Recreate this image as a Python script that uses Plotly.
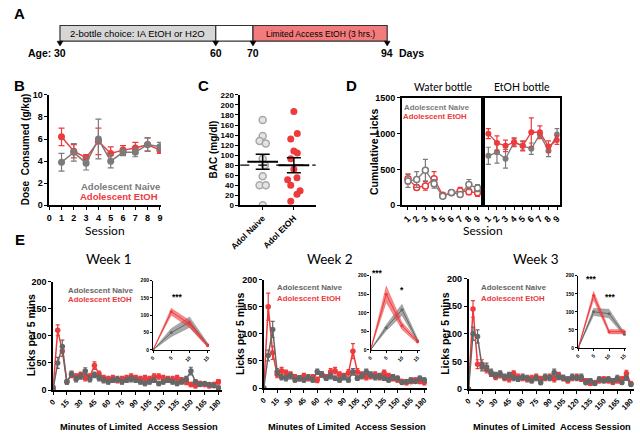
import plotly.graph_objects as go

W, H = 640, 438
RED = "#ec3a3d"
GRAY = "#7b7b7b"
DGRAY = "#666666"
FONT = "Liberation Sans, Arial, sans-serif"
FONT2 = "Lato, Open Sans, sans-serif"

# ---------------- data ----------------
# Panel A timeline
ages = [30, 60, 70, 94]
phase_labels = ["2-bottle choice: IA EtOH or H2O", "", "Limited Access EtOH (3 hrs.)"]

# Panel B
sessions = [1, 2, 3, 4, 5, 6, 7, 8, 9]
dose_naive = [3.9, 4.8, 3.8, 6.0, 4.0, 4.8, 4.8, 5.5, 5.3]
dose_naive_err = [0.8, 0.8, 0.6, 1.8, 0.6, 0.3, 0.4, 0.6, 0.4]
dose_etoh = [6.2, 4.9, 4.3, 5.8, 4.7, 5.0, 5.2, 5.5, 5.0]
dose_etoh_err = [0.8, 0.6, 0.3, 1.2, 0.6, 0.4, 0.5, 0.6, 0.3]

# Panel C
bac_groups = ["Adol Naive", "Adol EtOH"]
bac_naive = [170, 138, 128, 123, 93, 80, 58, 40, 40, 0]
bac_naive_jitter = [0, 0, -0.1, 0.1, 0, 0.07, 0, -0.1, 0.1, 0]
bac_etoh = [187, 143, 132, 108, 104, 93, 72, 55, 51, 40, 29, 22, 8]
bac_etoh_jitter = [0, 0.11, -0.1, 0, 0.11, -0.1, 0, 0.1, -0.2, -0.1, 0.2, 0.1, -0.1]
bac_mean = [87, 80]
bac_sem = [15, 15]
bac_threshold = 80

# Panel D
water_naive = [340, 360, 490, 300, 125, 180, 150, 290, 240]
water_naive_err = [90, 110, 150, 60, 20, 30, 30, 70, 50]
water_etoh = [370, 250, 270, 370, 140, 175, 200, 190, 175]
water_etoh_err = [70, 40, 60, 100, 20, 30, 50, 40, 50]
etohb_naive = [690, 740, 650, 880, 830, 790, 990, 760, 990]
etohb_naive_err = [120, 150, 130, 50, 60, 80, 40, 80, 80]
etohb_etoh = [1000, 870, 830, 880, 830, 1020, 1020, 820, 910]
etohb_etoh_err = [70, 100, 80, 60, 70, 200, 90, 80, 60]

# Panel E (5-min bins, 0..180)
minutes = list(range(0, 181, 5))
w1_etoh = [5, 110, 72, 15, 28, 25, 28, 22, 25, 45, 30, 22, 20, 22, 18, 20, 22, 25, 22,
           20, 22, 20, 25, 25, 22, 20, 20, 22, 18, 15, 10, 8, 12, 10, 8, 10, 15]
w1_etoh_err = [3, 10, 10, 4, 5, 5, 5, 5, 5, 7, 5, 5, 5, 5, 5, 5, 5, 5, 5,
               5, 5, 5, 5, 5, 5, 5, 5, 5, 5, 5, 4, 4, 4, 4, 4, 4, 4]
w1_naive = [2, 50, 80, 15, 30, 20, 25, 35, 20, 28, 22, 18, 15, 18, 20, 15, 18, 20, 18,
            15, 12, 15, 18, 12, 15, 18, 15, 12, 15, 20, 35, 15, 10, 12, 10, 8, 4]
w1_naive_err = [2, 10, 12, 4, 5, 5, 5, 6, 5, 5, 5, 5, 4, 4, 5, 4, 4, 5, 4,
                4, 4, 4, 4, 4, 4, 4, 4, 4, 4, 5, 7, 4, 3, 3, 3, 3, 3]
w2_etoh = [0, 150, 65, 25, 32, 28, 25, 20, 18, 22, 18, 20, 15, 25, 20, 30, 32, 25, 22,
           28, 68, 30, 25, 20, 22, 25, 20, 28, 22, 18, 15, 12, 10, 12, 15, 12, 10]
w2_etoh_err = [0, 25, 12, 6, 6, 5, 5, 5, 5, 5, 5, 5, 5, 5, 5, 6, 6, 5, 5,
               6, 14, 6, 5, 5, 5, 5, 5, 5, 5, 5, 4, 4, 4, 4, 4, 4, 4]
w2_naive = [0, 60, 108, 30, 20, 18, 22, 15, 18, 15, 20, 15, 30, 25, 18, 22, 18, 15, 20,
            15, 30, 18, 22, 30, 25, 20, 22, 18, 15, 20, 18, 10, 12, 15, 12, 18, 15]
w2_naive_err = [0, 10, 15, 6, 5, 5, 5, 4, 5, 4, 5, 4, 5, 5, 4, 5, 4, 4, 5,
                4, 6, 4, 5, 5, 5, 5, 5, 4, 4, 5, 4, 3, 3, 4, 3, 4, 4]
w3_etoh = [0, 145, 45, 45, 35, 28, 22, 25, 20, 18, 28, 22, 20, 18, 20, 22, 18, 20, 22,
           18, 25, 20, 15, 20, 22, 18, 15, 10, 12, 15, 18, 15, 12, 15, 18, 28, 10]
w3_etoh_err = [0, 15, 8, 8, 6, 5, 5, 5, 5, 5, 5, 5, 5, 5, 5, 5, 5, 5, 5,
               5, 5, 5, 4, 5, 5, 4, 4, 3, 3, 4, 4, 4, 3, 4, 4, 6, 3]
w3_naive = [0, 100, 95, 40, 40, 30, 25, 28, 22, 25, 20, 18, 22, 20, 15, 20, 12, 22, 20,
            30, 22, 20, 18, 22, 20, 22, 12, 15, 10, 18, 15, 18, 15, 20, 12, 20, 8]
w3_naive_err = [0, 12, 12, 7, 7, 6, 5, 5, 5, 5, 5, 4, 5, 5, 4, 5, 4, 5, 5,
                6, 5, 5, 4, 5, 5, 5, 4, 4, 3, 4, 4, 4, 4, 5, 3, 4, 3]

inset_x = [0, 5, 10, 15]
ins1_etoh, ins1_etoh_band = [0, 110, 75, 12], [0, 10, 10, 4]
ins1_naive, ins1_naive_band = [0, 50, 80, 15], [0, 12, 15, 5]
ins2_etoh, ins2_etoh_band = [0, 150, 65, 22], [0, 22, 10, 5]
ins2_naive, ins2_naive_band = [0, 60, 108, 25], [0, 8, 15, 5]
ins3_etoh, ins3_etoh_band = [0, 145, 45, 45], [0, 12, 6, 6]
ins3_naive, ins3_naive_band = [0, 100, 95, 38], [0, 10, 12, 5]

# ---------------- helpers ----------------
def dx(a, b):
    return [a / W, b / W]

def dy(top, bottom):
    return [1 - bottom / H, 1 - top / H]

def px(x):
    return x / W

def py(y):
    return 1 - y / H

def axis(domain, rng, anchor, tickfont=9, bold=True, **kw):
    d = dict(domain=domain, range=rng, anchor=anchor, showline=True, linecolor="black",
             linewidth=1.5, ticks="outside", ticklen=3, tickwidth=1.2, tickcolor="black",
             showgrid=False, zeroline=False,
             tickfont=dict(family=FONT, size=tickfont, color="black",
                           weight="bold" if bold else "normal"))
    d.update(kw)
    return d

fig = go.Figure()
layout = {}
ann = []
shapes = []

def text(x, y, s, size=9, color="black", bold=True, family=FONT, angle=0, xanchor="center"):
    ann.append(dict(x=px(x), y=py(y), xref="paper", yref="paper", text=s, showarrow=False,
                    textangle=angle, xanchor=xanchor, yanchor="middle",
                    font=dict(family=family, size=size, color=color,
                              weight="bold" if bold else "normal")))

# ---------------- Panel A ----------------
tl_px = [50, 209, 247, 384]
tl_top, tl_bot = 21, 37
fills = ["#d6d6d6", "white", "#f47b7b"]
for i in range(3):
    shapes.append(dict(type="rect", xref="paper", yref="paper", x0=px(tl_px[i]), x1=px(tl_px[i + 1]),
                       y0=py(tl_bot), y1=py(tl_top), fillcolor=fills[i],
                       line=dict(color="#333333", width=1.2)))
for i, lab in enumerate(phase_labels):
    if lab:
        text((tl_px[i] + tl_px[i + 1]) / 2, 29.5, lab, size=9.5 if i == 0 else 8.5, bold=False)
for xp, a in zip(tl_px, ages):
    shapes.append(dict(type="path", xref="paper", yref="paper",
                       path=f"M {px(xp-3)} {py(37)} L {px(xp+3)} {py(37)} L {px(xp)} {py(42)} Z",
                       fillcolor="black", line=dict(color="black", width=0.5)))
    text(xp, 49, str(a), size=10.5)
text(29, 49, "Age:", size=10.5)
text(409, 49, "Days", size=10.5)
text(9, 9, "A", size=15)

# ---------------- Panel B ----------------
layout["xaxis"] = axis(dx(39, 153), [0, 9.08], "y", tickvals=list(range(0, 10)))
layout["yaxis"] = axis(dy(92, 205), [0, 10], "x", tickvals=[0, 2, 4, 6, 8, 10])
for yv, ye, c in [(dose_etoh, dose_etoh_err, RED), (dose_naive, dose_naive_err, GRAY)]:
    fig.add_trace(go.Scatter(x=sessions, y=yv, xaxis="x", yaxis="y", mode="lines+markers",
                             line=dict(color=c, width=1.5), marker=dict(color=c, size=7),
                             error_y=dict(array=ye, color=c, thickness=1.2, width=3),
                             showlegend=False))
text(9, 82, "B", size=15)
text(15, 148, "Dose  Consumed (g/kg)", size=10, angle=-90)
text(96, 231, "Session", size=12, bold=False, family=FONT2)
text(112, 186, "Adolescent Naive", size=9.5, color=GRAY)
text(110, 196, "Adolescent EtOH", size=9.5, color=RED)

# ---------------- Panel C ----------------
layout["xaxis2"] = axis(dx(234, 311), [0.28, 2.7], "y2", tickvals=[1, 2], ticktext=bac_groups,
                        tickangle=-45, tickfont=8.5)
layout["yaxis2"] = axis(dy(92, 205), [0, 220], "x2", tickvals=list(range(0, 221, 20)), tickfont=8)
fig.add_trace(go.Scatter(x=[1 + j for j in bac_naive_jitter], y=bac_naive, xaxis="x2", yaxis="y2",
                         mode="markers", marker=dict(color="#e4e4e4", size=7,
                                                     line=dict(color="#a8a8a8", width=1.5)),
                         showlegend=False))
fig.add_trace(go.Scatter(x=[2 + j for j in bac_etoh_jitter], y=bac_etoh, xaxis="x2", yaxis="y2",
                         mode="markers", marker=dict(color=RED, size=7), showlegend=False))
shapes.append(dict(type="line", xref="x2 domain", yref="y2", x0=0, x1=1, y0=bac_threshold,
                   y1=bac_threshold, line=dict(color="black", width=1.3, dash="dash")))
fig.add_trace(go.Scatter(x=[1, 2], y=bac_mean, xaxis="x2", yaxis="y2", mode="markers",
                         marker=dict(symbol="line-ew-open", size=22, color="black",
                                     line=dict(color="black", width=2)),
                         error_y=dict(array=bac_sem, color="black", thickness=1.5, width=7),
                         showlegend=False))
text(197, 82, "C", size=15)
text(207, 148, "BAC (mg/dl)", size=10, angle=-90)

# ---------------- Panel D ----------------
layout["xaxis3"] = axis(dx(399, 482), [0.3, 9.65], "y3", tickvals=sessions, tickangle=-45,
                        mirror=True)
layout["yaxis3"] = axis(dy(95, 205), [0, 1500], "x3", tickvals=[0, 500, 1000, 1500], mirror=True)
layout["xaxis4"] = axis(dx(482, 560), [0.4, 9.3], "y4", tickvals=sessions, tickangle=-45,
                        mirror=True)
layout["yaxis4"] = axis(dy(95, 205), [0, 1500], "x4", tickvals=[0, 500, 1000, 1500], mirror=True,
                        ticks="", showticklabels=False)
for yv, ye, c in [(water_etoh, water_etoh_err, RED), (water_naive, water_naive_err, GRAY)]:
    fig.add_trace(go.Scatter(x=sessions, y=yv, xaxis="x3", yaxis="y3", mode="lines+markers",
                             line=dict(color=c, width=1.3),
                             marker=dict(color="white", size=6, line=dict(color=c, width=1.5)),
                             error_y=dict(array=ye, color=c, thickness=1.2, width=2.5),
                             showlegend=False))
for yv, ye, c in [(etohb_naive, etohb_naive_err, GRAY), (etohb_etoh, etohb_etoh_err, RED)]:
    fig.add_trace(go.Scatter(x=sessions, y=yv, xaxis="x4", yaxis="y4", mode="lines+markers",
                             line=dict(color=c, width=1.3), marker=dict(color=c, size=6),
                             error_y=dict(array=ye, color=c, thickness=1.2, width=2.5),
                             showlegend=False))
text(348, 82, "D", size=15)
text(441, 84, "Water bottle", size=10.5, bold=False, family=FONT2)
text(522, 84, "EtOH bottle", size=10.5, bold=False, family=FONT2)
text(370, 150, "Cumulative Licks", size=10.5, angle=-90)
text(435, 105, "Adolescent Naive", size=7.8, color=GRAY)
text(433, 114, "Adolescent EtOH", size=7.8, color=RED)
text(482, 231, "Session", size=12, bold=False, family=FONT2)

# ---------------- Panel E ----------------
weeks = [
    dict(main=(43, 215, 283, 394), inset=(145, 203, 282, 353), title_x=100, ylab_x=20,
         xt_x=131, red=(w1_etoh, w1_etoh_err), gray=(w1_naive, w1_naive_err),
         ired=(ins1_etoh, ins1_etoh_band), igray=(ins1_naive, ins1_naive_band),
         stars=[(170, 299, "***")], leg=(92, 292, 301), name="Week 1"),
    dict(main=(258, 425, 281, 392), inset=(367, 417, 277, 353), title_x=326, ylab_x=234,
         xt_x=343, red=(w2_etoh, w2_etoh_err), gray=(w2_naive, w2_naive_err),
         ired=(ins2_etoh, ins2_etoh_band), igray=(ins2_naive, ins2_naive_band),
         stars=[(374, 274, "***"), (399, 292, "*")], leg=(305, 289, 300), name="Week 2"),
    dict(main=(467, 636, 280, 393), inset=(579, 628, 277, 351), title_x=536, ylab_x=443,
         xt_x=552, red=(w3_etoh, w3_etoh_err), gray=(w3_naive, w3_naive_err),
         ired=(ins3_etoh, ins3_etoh_band), igray=(ins3_naive, ins3_naive_band),
         stars=[(593, 280, "***"), (612, 299, "***")], leg=(513, 289, 300), name="Week 3"),
]
ax = 5
for wk in weeks:
    mx0, mx1, my0, my1 = wk["main"]
    xa, ya = f"x{ax}", f"y{ax}"
    layout[f"xaxis{ax}"] = axis(dx(mx0, mx1), [0, 183.5], ya, tickvals=list(range(0, 181, 15)),
                                tickangle=-45, tickfont=7.5)
    layout[f"yaxis{ax}"] = axis(dy(my0, my1), [0, 200], xa, tickvals=[0, 50, 100, 150, 200],
                                tickfont=9)
    for (yv, ye), c in [(wk["red"], RED), (wk["gray"], DGRAY)]:
        fig.add_trace(go.Scatter(x=minutes, y=yv, xaxis=xa, yaxis=ya, mode="lines+markers",
                                 line=dict(color=c, width=1.5), marker=dict(color=c, size=5.5),
                                 error_y=dict(array=ye, color=c, thickness=1.2, width=2),
                                 showlegend=False))
    ix0, ix1, iy0, iy1 = wk["inset"]
    xi, yi = f"x{ax+1}", f"y{ax+1}"
    layout[f"xaxis{ax+1}"] = axis(dx(ix0, ix1), [0, 15.6], yi, tickvals=inset_x, tickangle=-45,
                                  tickfont=5, ticklen=2, linewidth=1.2)
    layout[f"yaxis{ax+1}"] = axis(dy(iy0, iy1), [0, 200], xi, tickvals=[0, 50, 100, 150, 200],
                                  tickfont=5, ticklen=2, linewidth=1.2)
    for (yv, band), c, fc in [(wk["igray"], DGRAY, "rgba(110,110,110,0.6)"),
                               (wk["ired"], RED, "rgba(238,60,60,0.6)")]:
        up = [v + b for v, b in zip(yv, band)]
        lo = [v - b for v, b in zip(yv, band)]
        fig.add_trace(go.Scatter(x=inset_x, y=up, xaxis=xi, yaxis=yi, mode="lines",
                                 line=dict(color=fc, width=0.5), showlegend=False))
        fig.add_trace(go.Scatter(x=inset_x, y=lo, xaxis=xi, yaxis=yi, mode="lines",
                                 line=dict(color=fc, width=0.5), fill="tonexty", fillcolor=fc,
                                 showlegend=False))
        fig.add_trace(go.Scatter(x=inset_x, y=yv, xaxis=xi, yaxis=yi, mode="lines+markers",
                                 line=dict(color=c, width=1), marker=dict(color=c, size=3),
                                 showlegend=False))
    for sx, sy, st in wk["stars"]:
        text(sx, sy, st, size=8.5)
    text(wk["title_x"], 260, wk["name"], size=13.5, bold=False, family=FONT2)
    text(wk["ylab_x"], (my0 + my1) / 2, "Licks per 5 mins", size=10.5, angle=-90)
    text(wk["xt_x"], 432, "Minutes of Limited  Access Session", size=9.3)
    lx, ly1, ly2 = wk["leg"]
    text(lx, ly1, "Adolescent Naive", size=7.8, color=DGRAY)
    text(lx - 1, ly2, "Adolescent EtOH", size=7.8, color=RED)
    ax += 2
text(9, 240, "E", size=15)

fig.update_layout(width=W, height=H, margin=dict(l=0, r=0, t=0, b=0),
                  paper_bgcolor="white", plot_bgcolor="rgba(0,0,0,0)",
                  annotations=ann, shapes=shapes, showlegend=False, **layout)
fig.write_html("out.html", config={"displayModeBar": False},
               post_script="document.body.style.margin='0';")
